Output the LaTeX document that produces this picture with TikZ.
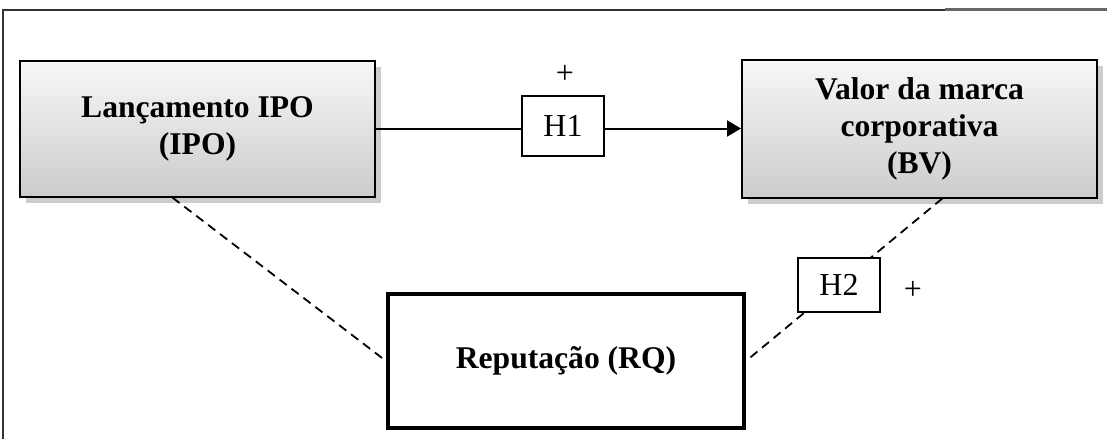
\documentclass[tikz,border=0pt]{standalone}
\usepackage{fontspec}
\setmainfont{Liberation Serif}
\usetikzlibrary{arrows.meta,shadows,positioning}

\begin{document}
\begin{tikzpicture}[x=0.5pt,y=-0.5pt,>={Triangle[length=7pt,width=8pt]},thick]
\tikzstyle{box}=[rectangle,draw,line width=1pt,minimum width=177.5pt,minimum height=68pt,align=center,
  font=\bfseries\fontsize{15.8}{18.5}\selectfont]
\tikzstyle{var}=[box,top color=gray!6,bottom color=gray!40,
  drop shadow={opacity=0.4,shadow xshift=3pt,shadow yshift=-3pt}]
\tikzstyle{hyp}=[rectangle,draw,line width=0.6pt,fill=white,minimum width=41pt,align=center,
  font=\fontsize{16}{18}\selectfont]
\tikzstyle{link}=[line width=0.9pt,dash pattern=on 4.5pt off 3pt]
  \useasboundingbox (0,0) rectangle (1107,439);
  % frame
  \draw[line width=0.6pt,black!80] (3,439) -- (3,10) -- (945,10);
  \draw[line width=1.5pt,black!60] (945,9) -- (1107,9);
  % variables
  \node[var](ipo) at (197.5,128.5){Lançamento IPO\\(IPO)};
  \node[var,minimum height=69pt](bv) at (919.5,128.5){Valor da marca\\corporativa\\(BV)};
  \node[box,line width=2pt,fill=white,minimum width=178pt,minimum height=67pt](rq) at (566,361){Reputação (RQ)};
  \draw[->,line width=1pt](ipo.east) -- (bv.west);
  \draw[link](ipo.250) -- (rq.west);
  \draw[link](bv.288) -- (rq.east);
  % hypotheses
  \node[hyp,minimum height=30pt](h1) at (563,126){H1};
  \node[hyp,minimum height=27pt](h2) at (839,285){H2};
  \node[font=\fontsize{16}{18}\selectfont](p1) at (565,74){+};
  \node[font=\fontsize{16}{18}\selectfont](p2) at (913,290){+};
\end{tikzpicture}
\end{document}
